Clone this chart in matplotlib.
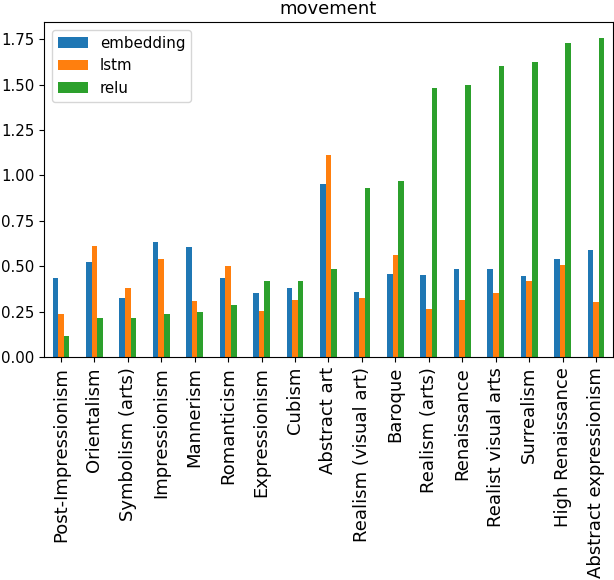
import numpy as np
import pandas as pd
import matplotlib
matplotlib.use("Agg")
import matplotlib.pyplot as plt

categories = [
    "Post-Impressionism", "Orientalism", "Symbolism (arts)", "Impressionism",
    "Mannerism", "Romanticism", "Expressionism", "Cubism", "Abstract art",
    "Realism (visual art)", "Baroque", "Realism (arts)", "Renaissance",
    "Realist visual arts", "Surrealism", "High Renaissance",
    "Abstract expressionism",
]
embedding = [0.435, 0.522, 0.325, 0.632, 0.605, 0.435, 0.353, 0.380, 0.955,
             0.358, 0.457, 0.451, 0.484, 0.484, 0.446, 0.539, 0.588]
lstm = [0.237, 0.610, 0.380, 0.539, 0.309, 0.500, 0.254, 0.314, 1.114,
        0.325, 0.561, 0.265, 0.314, 0.353, 0.418, 0.506, 0.303]
relu = [0.117, 0.216, 0.216, 0.237, 0.248, 0.287, 0.418, 0.418, 0.484,
        0.933, 0.972, 1.481, 1.498, 1.602, 1.624, 1.728, 1.756]

df = pd.DataFrame({"embedding": embedding, "lstm": lstm, "relu": relu},
                  index=categories)

plt.rcParams["font.size"] = 10.8

fig = plt.figure(figsize=(6.14, 5.80), dpi=100)
ax = fig.add_axes([0.072, 0.384, 0.926, 0.578])
df.plot.bar(ax=ax)
ax.set_title("movement")
ax.tick_params(axis="x", labelsize=13)
ax.legend(loc="upper left")

fig.savefig("out.png", dpi=100)
